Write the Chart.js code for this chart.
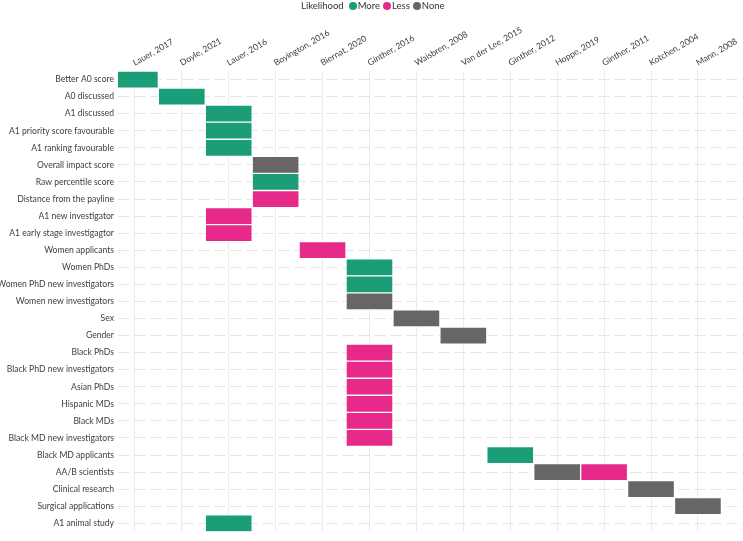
<!DOCTYPE html>
<html>
<head>
<meta charset="utf-8">
<script src="https://cdn.jsdelivr.net/npm/chart.js@4"></script>
<style>
  body { margin: 0; background: #fff; }
  #wrap { position: relative; width: 743px; height: 541px; }
  #legend {
    position: absolute; left: 301px; top: 0; height: 11px;
    font: 9.5px Lato, sans-serif; color: #333; display: flex; align-items: center;
  }
  #legend span.dot { display: inline-block; width: 8px; height: 8px; border-radius: 50%; margin: 0 1px 0 3px; }
</style>
</head>
<body>
<div id="wrap">
  <canvas id="myChart" width="743" height="541"></canvas>
  <div id="legend"></div>
</div>
<script>
// studies along the top axis
const studies = ['Lauer, 2017', 'Doyle, 2021', 'Lauer, 2016', 'Boyington, 2016', 'Biernat, 2020',
  'Ginther, 2016', 'Waisbren, 2008', 'Van der Lee, 2015', 'Ginther, 2012', 'Hoppe, 2019',
  'Ginther, 2011', 'Kotchen, 2004', 'Mann, 2008'];

// outcomes down the side
const outcomes = ['Better A0 score', 'A0 discussed', 'A1 discussed', 'A1 priority score favourable',
  'A1 ranking favourable', 'Overall impact score', 'Raw percentile score', 'Distance from the payline',
  'A1 new investigator', 'A1 early stage investigagtor', 'Women applicants', 'Women PhDs',
  'Women PhD new investigators', 'Women new investigators', 'Sex', 'Gender', 'Black PhDs',
  'Black PhD new investigators', 'Asian PhDs', 'Hispanic MDs', 'Black MDs', 'Black MD new investigators',
  'Black MD applicants', 'AA/B scientists', 'Clinical research', 'Surgical applications', 'A1 animal study'];

// [outcome, study] pairs by likelihood
const moreTiles = [
  ['Better A0 score', 'Lauer, 2017'],
  ['A0 discussed', 'Doyle, 2021'],
  ['A1 discussed', 'Lauer, 2016'],
  ['A1 priority score favourable', 'Lauer, 2016'],
  ['A1 ranking favourable', 'Lauer, 2016'],
  ['Raw percentile score', 'Boyington, 2016'],
  ['Women PhDs', 'Ginther, 2016'],
  ['Women PhD new investigators', 'Ginther, 2016'],
  ['Black MD applicants', 'Ginther, 2012'],
  ['A1 animal study', 'Lauer, 2016']
];
const lessTiles = [
  ['Distance from the payline', 'Boyington, 2016'],
  ['A1 new investigator', 'Lauer, 2016'],
  ['A1 early stage investigagtor', 'Lauer, 2016'],
  ['Women applicants', 'Biernat, 2020'],
  ['Black PhDs', 'Ginther, 2016'],
  ['Black PhD new investigators', 'Ginther, 2016'],
  ['Asian PhDs', 'Ginther, 2016'],
  ['Hispanic MDs', 'Ginther, 2016'],
  ['Black MDs', 'Ginther, 2016'],
  ['Black MD new investigators', 'Ginther, 2016'],
  ['AA/B scientists', 'Ginther, 2011']
];
const noneTiles = [
  ['Overall impact score', 'Boyington, 2016'],
  ['Women new investigators', 'Ginther, 2016'],
  ['Sex', 'Waisbren, 2008'],
  ['Gender', 'Van der Lee, 2015'],
  ['AA/B scientists', 'Hoppe, 2019'],
  ['Clinical research', 'Kotchen, 2004'],
  ['Surgical applications', 'Mann, 2008']
];

const levels = ['More', 'Less', 'None'];
const colors = ['#1b9e77', '#e7298a', '#666666'];

function toBars(tiles) {
    return tiles.map(t => {
        const i = studies.indexOf(t[1]);
        return { y: t[0], x: [i - 0.5, i + 0.5] };
    });
}

const datasets = [moreTiles, lessTiles, noneTiles].map((tiles, k) => ({
    label: levels[k],
    data: toBars(tiles),
    backgroundColor: colors[k],
    borderColor: '#ffffff',
    borderWidth: 1,
    borderSkipped: false,
    grouped: false,
    barPercentage: 1,
    categoryPercentage: 1
}));

// legend
const legend = document.getElementById('legend');
legend.innerHTML = '<span style="margin-right:2px">Likelihood</span>' +
    levels.map((l, k) => '<span class="dot" style="background:' + colors[k] + '"></span><span>' + l + '</span>').join('');

const tickFont = { family: 'Lato, sans-serif', size: 8.6 };

const ctx = document.getElementById('myChart').getContext('2d');
const myChart = new Chart(ctx, {
    type: 'bar',
    data: { labels: outcomes, datasets: datasets },
    options: {
        indexAxis: 'y',
        responsive: false,
        animation: false,
        layout: { padding: { left: 0, right: 0, top: 0, bottom: 4 } },
        plugins: { legend: { display: false }, tooltip: { enabled: false } },
        scales: {
            x: {
                type: 'linear',
                position: 'top',
                min: -0.36,
                max: 12.96,
                afterBuildTicks: scale => { scale.ticks = studies.map((s, i) => ({ value: i })); },
                afterFit: scale => { scale.height = 71; },
                ticks: {
                    autoSkip: false,
                    minRotation: 30,
                    maxRotation: 30,
                    padding: 3,
                    labelOffset: 4,
                    color: '#3d3d3d',
                    font: tickFont,
                    callback: v => studies[v]
                },
                grid: { color: '#ebebeb', lineWidth: 1, drawTicks: false },
                border: { display: false }
            },
            y: {
                type: 'category',
                offset: true,
                afterFit: scale => { scale.width = 118; },
                ticks: { color: '#3d3d3d', font: tickFont, padding: 4 },
                grid: { color: '#e6e6e6', lineWidth: 1, offset: false, drawTicks: false },
                border: { display: false, dash: [11, 5] }
            }
        }
    }
});
</script>
</body>
</html>
